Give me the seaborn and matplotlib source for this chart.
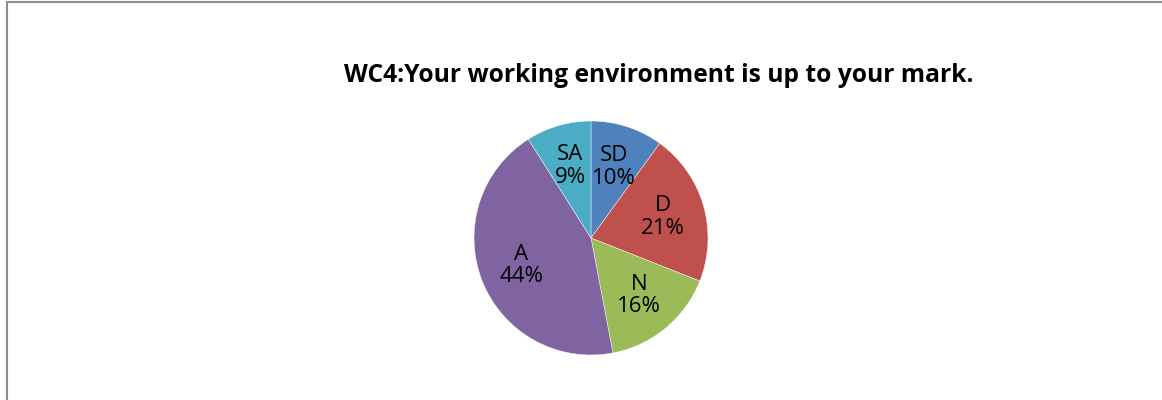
import numpy as np
import pandas as pd
import seaborn as sns
import matplotlib.pyplot as plt
from matplotlib.patches import Rectangle

sns.set_style("white")
plt.rcParams['font.family'] = ['Open Sans', 'DejaVu Sans']

# survey answers for WC4
categories = ["SD", "D", "N", "A", "SA"]
shares = [10, 21, 16, 44, 9]
colors = ["#4F81BD", "#C0504D", "#9BBB59", "#8064A2", "#4BACC6"]

df = pd.DataFrame({"answer": categories, "share": shares})
labels = [f"{a}\n{s}%" for a, s in zip(df["answer"], df["share"])]

fig = plt.figure(figsize=(11.62, 4), dpi=100)
ax = fig.add_axes([474 / 1162, 45 / 400, 234 / 1162, 234 / 400])
wedges, texts = ax.pie(df["share"], labels=labels, colors=colors,
                       startangle=90, counterclock=False,
                       labeldistance=0.64,
                       wedgeprops=dict(edgecolor="white", linewidth=0.3),
                       textprops=dict(fontsize=16, ha="center", va="center",
                                      linespacing=1.1, color="black"))
ax.set_xlim(-1, 1)
ax.set_ylim(-1, 1)
ax.set_aspect("equal")

fig.text(0.567, 0.81, "WC4:Your working environment is up to your mark.",
         ha="center", va="center", fontsize=17.7, fontweight="bold",
         color="black")

# chart area border (left and top visible)
fig.add_artist(Rectangle((7 / 1162, -0.1), 1.2, 0.1 + 398 / 400,
                         transform=fig.transFigure, fill=False,
                         edgecolor="#8c8c8c", linewidth=1.5))

fig.savefig("out.png", dpi=100)
